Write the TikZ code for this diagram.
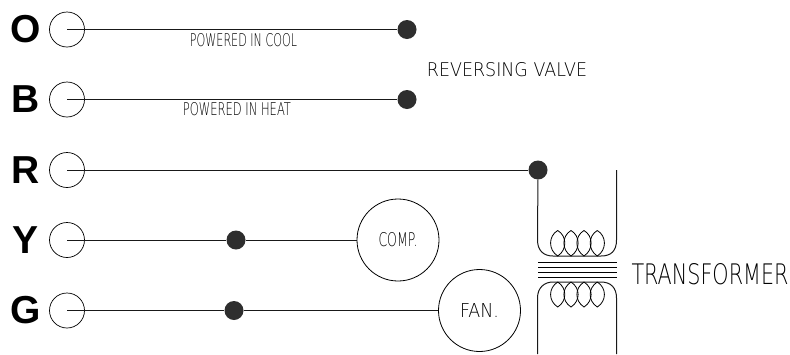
\documentclass[tikz,border=0pt]{standalone}
\usepackage{fontspec}
\usepackage{graphicx}
\setmainfont{Liberation Sans}
\newfontfamily\cadfont[FakeStretch=0.72]{DejaVu Sans ExtraLight}
\usetikzlibrary{positioning}
\tikzset{
  wire/.style={line width=1pt, black!90},
  thin wire/.style={line width=0.8pt, black},
  terminal/.style={circle, draw, line width=0.7pt, minimum size=35pt, inner sep=0pt},
  junction/.style={circle, fill=black!82, minimum size=19pt, inner sep=0pt},
  load/.style={circle, draw, line width=0.8pt, minimum size=82pt, inner sep=0pt, font=\cadfont\fontsize{16}{16}\selectfont},
  letter/.style={font=\bfseries\fontsize{39}{39}\selectfont, inner sep=0pt},
  cadlabel/.style={font=\cadfont\fontsize{15}{15}\selectfont, inner sep=0pt, black},
}
\begin{document}
\begin{tikzpicture}[x=1pt,y=-1pt]
  \useasboundingbox (0,0) rectangle (790,354);

  % terminals
  \foreach \name/\ypos in {O/29.5, B/99.5, R/170, Y/240, G/310.5} {
    \node[letter] (label\name) at (25.5,\ypos) {\name};
    \node[terminal] (term\name) at (67,\ypos) {};
    \coordinate (start\name) at (67,\ypos);
  }

  % reversing valve
  \node[junction] (valveO) at (407,29.5) {};
  \node[junction] (valveB) at (407,99.5) {};
  \draw[wire] (startO) -- (valveO);
  \draw[wire] (startB) -- (valveB);
  \node[cadlabel] (cool) at (243.5,40) {\resizebox{107pt}{13pt}{POWERED IN COOL}};
  \node[cadlabel] (heat) at (237,109) {\resizebox{108pt}{13pt}{POWERED IN HEAT}};
  \node[cadlabel] (valve) at (507,69.5) {\resizebox{160pt}{14pt}{REVERSING VALVE}};

  % loads
  \node[junction] (dotR) at (538,170) {};
  \node[junction] (dotY) at (236,240) {};
  \node[junction] (dotG) at (234,310.5) {};
  \node[load] (comp) at (398,240) {\resizebox{39pt}{14pt}{COMP.}};
  \node[load] (fan) at (479.5,310.5) {\resizebox{39pt}{14pt}{FAN.}};
  \draw[wire] (startR) -- (dotR);
  \draw[wire] (startY) -- (dotY) -- (comp);
  \draw[wire] (startG) -- (dotG) -- (fan);

  % transformer
  \coordinate (topright) at (616.5,170);
  \coordinate (botleft) at (537.5,354);
  \coordinate (botright) at (616.5,354);
  \draw[wire] (dotR) -- (537.5,240) .. controls (537.5,251) and (544,256) .. (553,256) -- (601,256) .. controls (611,256) and (616.5,251) .. (616.5,240) -- (topright);
  \draw[wire] (botleft) -- (537.5,298) .. controls (537.5,288) and (544,282) .. (553,282) -- (601,282) .. controls (611,282) and (616.5,288) .. (616.5,298) -- (botright);
  \foreach \ypos in {262,267,272,277}
    \draw[thin wire] (538,\ypos) -- (616.5,\ypos);
  \foreach \xpos in {557.7,571,584,597.3} {
    \draw[thin wire] (\xpos,230.5) .. controls (\xpos+9.5,236) and (\xpos+9.5,250) .. (\xpos,256) .. controls (\xpos-9.5,250) and (\xpos-9.5,236) .. (\xpos,230.5);
    \draw[thin wire] (\xpos,282) .. controls (\xpos+9.5,288) and (\xpos+9.5,301) .. (\xpos,307) .. controls (\xpos-9.5,301) and (\xpos-9.5,288) .. (\xpos,282);
  }
  \node[cadlabel] (trans) at (710,274) {\resizebox{157pt}{21pt}{TRANSFORMER}};
\end{tikzpicture}
\end{document}
